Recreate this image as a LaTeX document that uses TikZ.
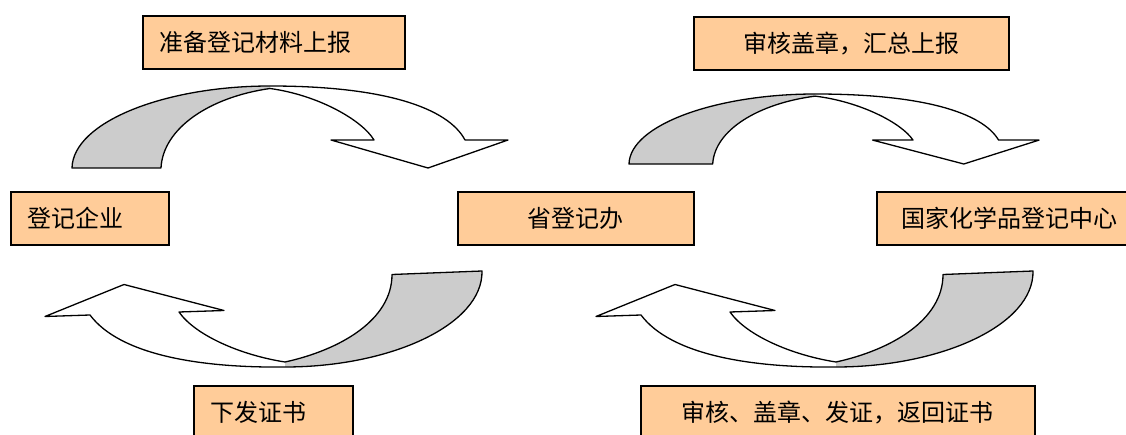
\documentclass[tikz,border=0pt]{standalone}
\usepackage{fontspec}
\newfontfamily\cjk{Noto Sans CJK SC}
\definecolor{boxfill}{HTML}{FFCC99}
\definecolor{backgray}{HTML}{CCCCCC}
\newcommand{\upperarrowshape}{%
  \fill[white] (270,88.5) .. controls (318,95) and (362,120) .. (374,140) -- (331,140) -- (428,168) -- (508,140) -- (465,140) .. controls (448,108) and (385,86) .. (270,86) -- cycle;
  \fill[backgray] (72,168) -- (161,168) .. controls (163,128) and (210,97) .. (270,88.5) -- (270,86) .. controls (165,86) and (73,122) .. (72,168) -- cycle;
  \draw[outline] (72,168) .. controls (73,122) and (165,86) .. (270,86) .. controls (385,86) and (448,108) .. (465,140) -- (508,140) -- (428,168) -- (331,140) -- (374,140) .. controls (362,120) and (318,95) .. (270,88.5) .. controls (210,97) and (163,128) .. (161,168) -- cycle;
}
\newcommand{\lowerarrowshape}{%
  \fill[white] (285,362) .. controls (240,355) and (195,335) .. (179,312) -- (224,310.5) -- (124,284.5) -- (45,316.5) -- (90,315) .. controls (120,355) and (200,368) .. (285,367) -- cycle;
  \fill[backgray] (392,274.5) -- (482,271) .. controls (483,325) and (390,367) .. (285,367) -- (285,362) .. controls (340,350) and (392,320) .. (392,274.5) -- cycle;
  \draw[outline] (482,271) .. controls (483,325) and (390,367) .. (285,367) .. controls (200,368) and (120,355) .. (90,315) -- (45,316.5) -- (124,284.5) -- (224,310.5) -- (179,312) .. controls (195,335) and (240,355) .. (285,362) .. controls (340,350) and (392,320) .. (392,274.5) -- cycle;
}
\begin{document}
\begin{tikzpicture}[x=1pt,y=-1pt,
  box/.style={draw=black, line width=1.7pt, fill=boxfill, minimum height=53pt, inner sep=0pt, anchor=north west, font=\cjk\fontsize{24}{28}\selectfont, text=black},
  lbox/.style={box, align=left, inner xsep=17pt},
  cbox/.style={box, align=center},
  outline/.style={draw=black, line width=1.3pt, line join=round}]
\useasboundingbox (0,0) rectangle (1126,435);
% curved block arrows
\upperarrowshape
\begin{scope}[shift={(629,94)}, xscale=0.9404, yscale=0.8537, shift={(-72,-86)}]
  \upperarrowshape
\end{scope}
\lowerarrowshape
\begin{scope}[xshift=551pt]
  \lowerarrowshape
\end{scope}
% boxes
\node[lbox, text width=228pt] (b1) at (142,15) {准备登记材料上报};
\node[cbox, minimum width=315pt] (b2) at (693,16) {审核盖章，汇总上报};
\node[lbox, text width=124pt] (b3) at (10,191) {登记企业};
\node[cbox, minimum width=236pt] (b4) at (457,191) {省登记办};
\node[cbox, minimum width=265pt] (b5) at (876,191) {国家化学品登记中心};
\node[lbox, text width=125pt] (b6) at (193,385) {下发证书};
\node[cbox, minimum width=394pt] (b7) at (640,385) {审核、盖章、发证，返回证书};
\end{tikzpicture}
\end{document}
